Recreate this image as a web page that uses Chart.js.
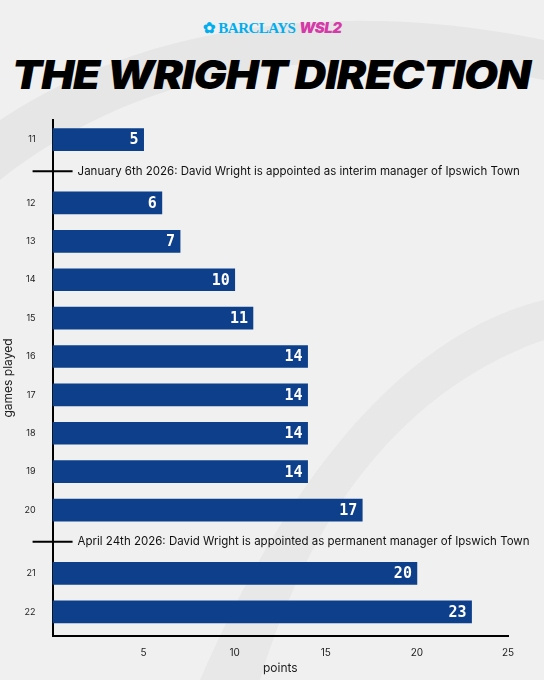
<!DOCTYPE html>
<html><head><meta charset="utf-8">
<script src="https://cdn.jsdelivr.net/npm/chart.js@4"></script>
<style>
html,body{margin:0;padding:0;width:544px;height:680px;overflow:hidden;background:#f0f0f0;font-family:Inter,sans-serif}
#logo{position:absolute;top:18px;left:0;width:544px;text-align:center;font-size:15px;letter-spacing:-0.5px}
#title{position:absolute;top:50px;left:12px;display:inline-block;font:italic 900 40px Inter;color:#000;white-space:nowrap;transform-origin:left top;letter-spacing:-1px}
#wrap{position:absolute;left:0;top:106px;width:544px;height:574px}
</style></head><body>
<svg style="position:absolute;left:0;top:0" width="544" height="680">
<path d="M0,120 C150,20 350,0 544,40 L544,80 C350,40 150,60 0,180Z" fill="#e6e6e6"/>
<path d="M200,680 C300,450 420,330 544,300 L544,340 C430,380 320,480 260,680Z" fill="#e8e8e8"/>
</svg>
<div id="logo"><span style="color:#00aeef;font-family:'Liberation Serif';font-weight:bold">✿ BARCLAYS</span> <span style="color:#d63aa8;font-style:italic;font-weight:900;font-family:Inter">WSL2</span></div>
<div id="title">THE WRIGHT DIRECTION</div>
<div id="wrap"><canvas id="c"></canvas></div>
<script>
const games = ['11','12','13','14','15','16','17','18','19','20','21','22'];
const points = [5,6,7,10,11,14,14,14,14,17,20,23];
const xTicks = [5,10,15,20,25];
const notes = [
 {after:'11', text:'January 6th 2026: David Wright is appointed as interim manager of Ipswich Town'},
 {after:'20', text:'April 24th 2026: David Wright is appointed as permanent manager of Ipswich Town'}
];
const GAP=1.65;
const pos=[];let p=0;
games.forEach((g,i)=>{ if(i>0){ p += notes.some(n=>n.after===games[i-1]) ? GAP : 1; } pos.push(p); });
const notePos = notes.map(n=>{const i=games.indexOf(n.after);return (pos[i]+pos[i+1])/2;});

const t=document.getElementById('title');
t.style.transform='scaleX('+(518/t.getBoundingClientRect().width)+')';

const annot={id:'annot',afterDraw(ch){const c=ch.ctx,y=ch.scales.y,x=ch.scales.x;
 notes.forEach((n,k)=>{const py=y.getPixelForValue(notePos[k]);
  c.save();c.strokeStyle='#000';c.lineWidth=2;c.beginPath();c.moveTo(x.left-20,py);c.lineTo(x.left+20,py);c.stroke();
  c.fillStyle='#111';c.font='11.5px Inter';c.textBaseline='middle';c.fillText(n.text,x.left+25,py);c.restore();});
}};
const vals={id:'vals',afterDatasetsDraw(ch){const c=ch.ctx;const m=ch.getDatasetMeta(0);
 c.save();c.fillStyle='#fff';c.font='bold 15px "DejaVu Sans Mono"';c.textAlign='right';c.textBaseline='middle';
 m.data.forEach((b,i)=>c.fillText(points[i],b.x-5,b.y+1));c.restore();}};

new Chart(document.getElementById('c'),{
 type:'bar',
 data:{datasets:[{data:points.map((v,i)=>({x:v,y:pos[i]})),backgroundColor:'#0d3f8a',barThickness:22,borderSkipped:false}]},
 options:{indexAxis:'y',responsive:true,maintainAspectRatio:false,animation:false,
  layout:{padding:{top:5,right:36,bottom:4,left:0}},
  plugins:{legend:{display:false},tooltip:{enabled:false}},
  scales:{
   x:{type:'linear',min:0,max:25,grid:{display:false},border:{color:'#000',width:2},
      afterBuildTicks(s){s.ticks=xTicks.map(v=>({value:v}));},
      ticks:{color:'#222',font:{size:10,family:'Inter'},padding:3},
      title:{display:true,text:'points',color:'#222',font:{size:12,family:'Inter'},padding:0}},
   y:{type:'linear',offset:false,reverse:true,min:-0.5,max:pos[pos.length-1]+0.62,grid:{display:false},border:{color:'#000',width:2},
      afterBuildTicks(s){s.ticks=pos.map(v=>({value:v}));},
      ticks:{color:'#222',font:{size:9,family:'Inter'},padding:9,callback:(v)=>{const i=pos.indexOf(v);return i>=0?games[i]:'';}},
      title:{display:true,text:'games played',color:'#222',font:{size:12,family:'Inter'},padding:{top:1,bottom:0}}}
  }},
 plugins:[annot,vals]
});
</script></body></html>
